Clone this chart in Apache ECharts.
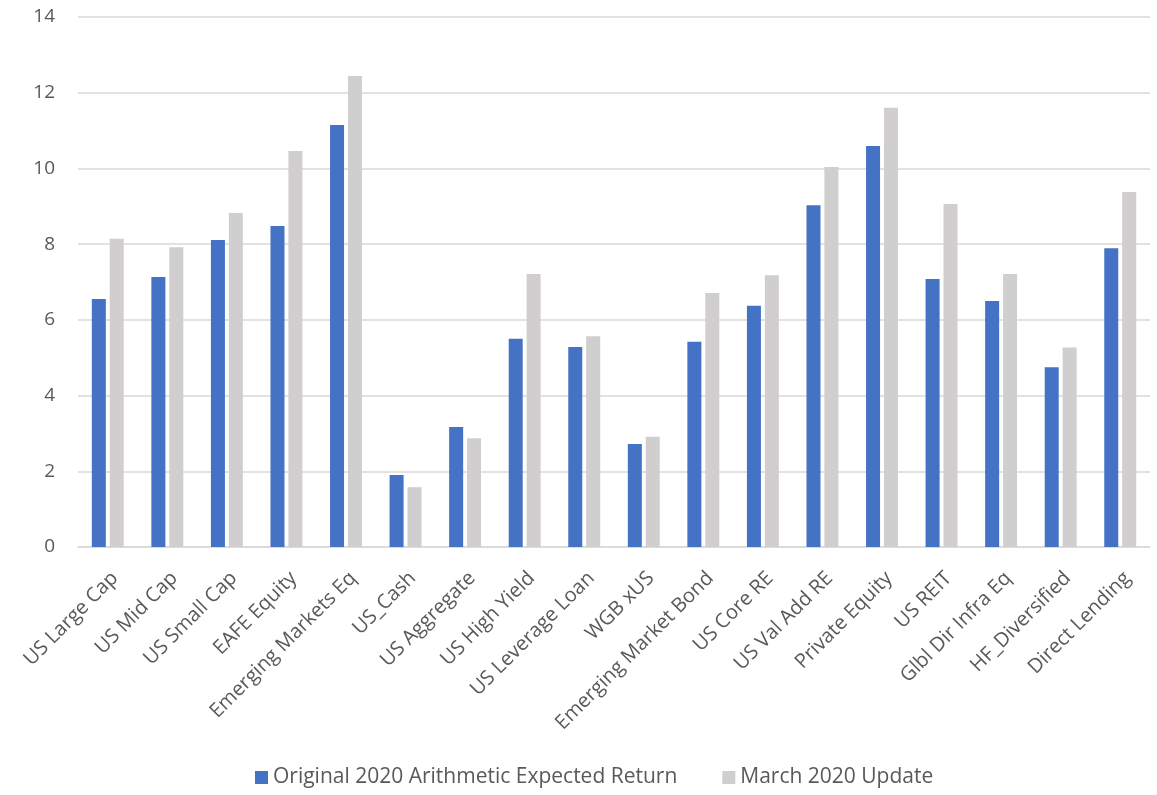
<!DOCTYPE html>
<html><head><meta charset="utf-8">
<script src="https://cdn.jsdelivr.net/npm/echarts@6/dist/echarts.min.js"></script>
<style>html,body{margin:0;padding:0;background:#fff}#c{width:1157px;height:795px}</style>
</head><body><div id="c"></div>
<script>
const categories = ["US Large Cap","US Mid Cap","US Small Cap","EAFE Equity","Emerging Markets Eq","US_Cash","US Aggregate","US High Yield","US Leverage Loan","WGB xUS","Emerging Market Bond","US Core RE","US Val Add RE","Private Equity","US REIT","Glbl Dir Infra Eq","HF_Diversified","Direct Lending"];
const original = [6.55,7.13,8.11,8.48,11.15,1.90,3.17,5.50,5.28,2.72,5.42,6.37,9.03,10.59,7.08,6.50,4.75,7.89];
const march = [8.14,7.92,8.82,10.46,12.44,1.58,2.87,7.21,5.57,2.91,6.71,7.18,10.04,11.60,9.06,7.21,5.27,9.38];
const seriesNames = ["Original 2020 Arithmetic Expected Return","March 2020 Update"];
const yTicks = {min:0,max:14,interval:2};
const font = '"Open Sans", sans-serif';
const chart = echarts.init(document.getElementById('c'));
chart.setOption({
  animation:false,
  textStyle:{fontFamily:font},
  grid:{left:78,right:7,top:17,bottom:248,containLabel:false},
  legend:{bottom:2,left:250,itemWidth:13,itemHeight:13,itemGap:45,icon:'rect',
    textStyle:{fontSize:21,color:'#595959',fontFamily:font}},
  xAxis:{type:'category',data:categories,
    axisLine:{lineStyle:{color:'#D9D9D9',width:1.5}},axisTick:{show:false},
    axisLabel:{rotate:45,fontSize:20,color:'#595959',interval:0,margin:21,
      verticalAlign:'top',align:'right',fontFamily:font}},
  yAxis:{type:'value',min:yTicks.min,max:yTicks.max,interval:yTicks.interval,
    axisLine:{show:false},axisTick:{show:false},
    splitLine:{lineStyle:{color:'#D9D9D9',width:1.5}},
    axisLabel:{fontSize:19,color:'#595959',margin:23,fontFamily:font}},
  series:[
    {name:seriesNames[0],type:'bar',data:original,barWidth:14,barGap:'28%',itemStyle:{color:'#4472C4'}},
    {name:seriesNames[1],type:'bar',data:march,barWidth:14,barGap:'28%',itemStyle:{color:'#D0CECE'}}
  ]
});
</script></body></html>
